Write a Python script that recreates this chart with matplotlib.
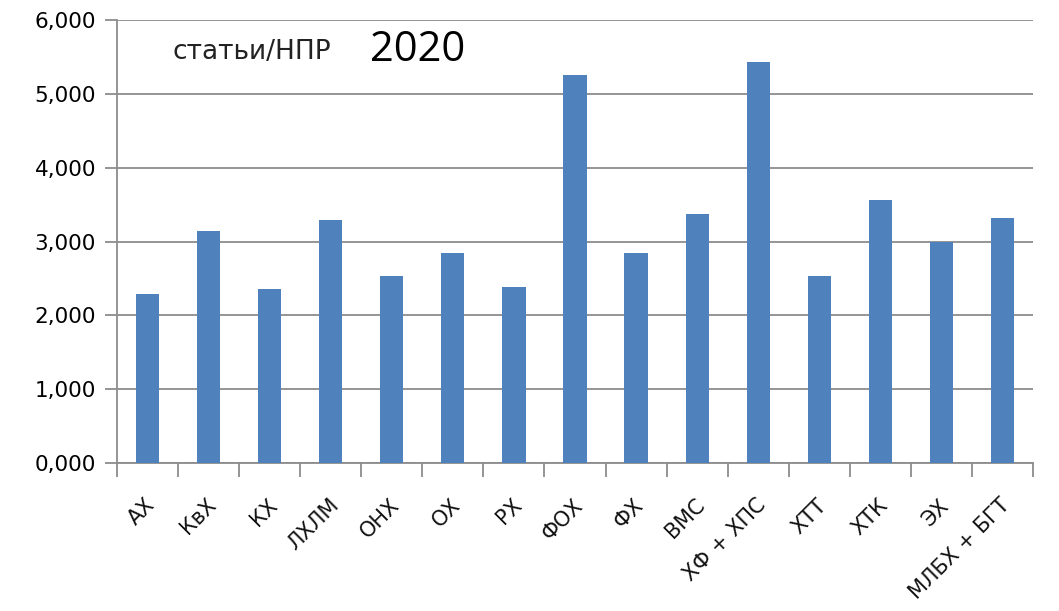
import numpy as np
import matplotlib
matplotlib.use("Agg")
import matplotlib.pyplot as plt
from matplotlib.ticker import FuncFormatter

categories = ["АХ", "КвХ", "КХ", "ЛХЛМ", "ОНХ", "ОХ", "РХ", "ФОХ", "ФХ", "ВМС",
              "ХФ + ХПС", "ХТТ", "ХТК", "ЭХ", "МЛБХ + БГТ"]
values = [2.29, 3.14, 2.36, 3.29, 2.53, 2.84, 2.39, 5.26, 2.84, 3.37,
          5.43, 2.53, 3.56, 2.99, 3.32]
y_ticks = [0, 1, 2, 3, 4, 5, 6]

plt.rcParams['font.family'] = ['DejaVu Sans']

W, H = 1059, 611
fig = plt.figure(figsize=(W/100, H/100), dpi=100)
ax = fig.add_axes([117/W, 1 - 463/H, (1033-117)/W, (463-20)/H])

x = np.arange(len(categories))
ax.bar(x, values, width=0.38, color="#4F81BD", zorder=3)

ax.set_xlim(-0.5, len(categories) - 0.5)
ax.set_ylim(0, 6)
ax.set_yticks(y_ticks)
ax.yaxis.set_major_formatter(FuncFormatter(lambda v, p: f"{v:.3f}".replace(".", ",")))
ax.grid(axis="y", color="#8c8c8c", linewidth=1.3, zorder=0)

# category boundary ticks
ax.set_xticks(np.arange(len(categories) + 1) - 0.5)
ax.set_xticklabels([])
ax.set_xticks(x - 0.04, minor=True)
ax.set_xticklabels(categories, minor=True, rotation=45, ha="right",
                   rotation_mode="anchor", fontsize=15, color="#111111")
ax.tick_params(axis="x", which="minor", length=0, pad=23)
ax.tick_params(axis="x", which="major", length=10, color="#8c8c8c", width=1.3)
ax.tick_params(axis="y", length=9, color="#8c8c8c", width=1.3, labelsize=15.5, pad=6)

for s in ["top", "right"]:
    ax.spines[s].set_visible(False)
for s in ["left", "bottom"]:
    ax.spines[s].set_color("#8c8c8c")
    ax.spines[s].set_linewidth(1.3)

fig.text(172/W, 1 - 52/H, "статьи/НПР", fontsize=19, va="center", ha="left",
         color="#222222")
fig.text(370/W, 1 - 50/H, "2020", fontsize=30, va="center", ha="left",
         family="Open Sans")

fig.savefig("out.png", dpi=100)
